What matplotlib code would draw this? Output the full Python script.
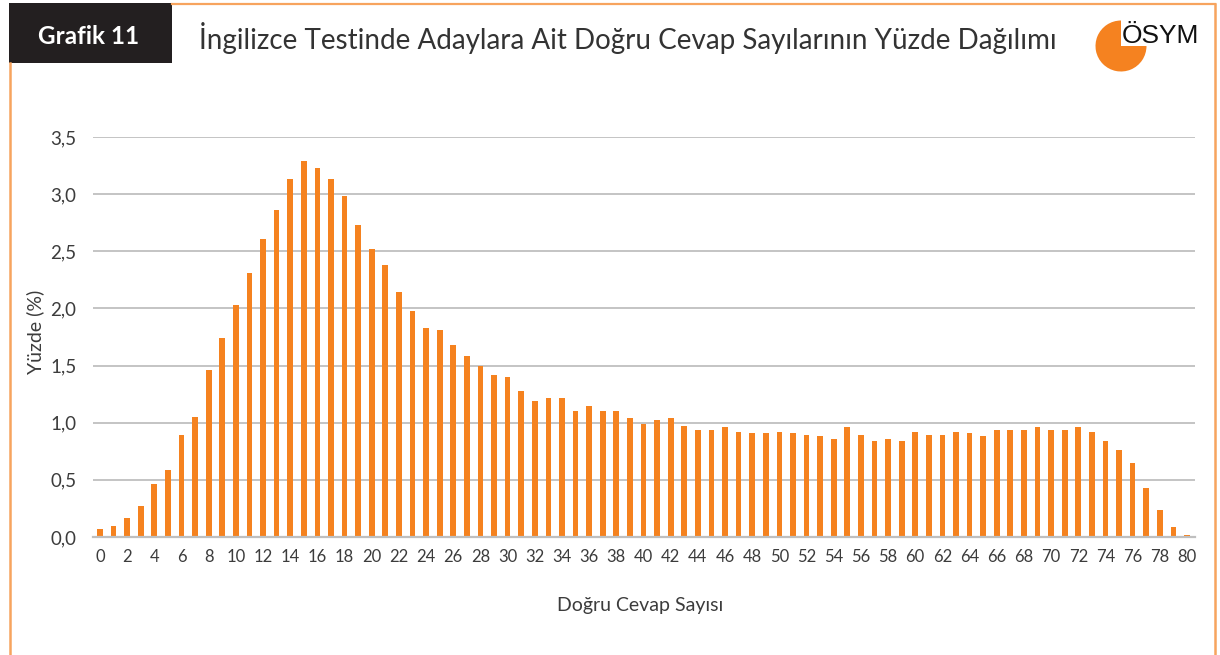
import matplotlib
matplotlib.use("Agg")
import matplotlib.pyplot as plt
from matplotlib.patches import Rectangle, Wedge
from matplotlib.lines import Line2D
from matplotlib.ticker import FuncFormatter

# ---- data ----
correct_counts = list(range(0, 81))
percentages = [
    0.07, 0.10, 0.17, 0.27, 0.46, 0.59, 0.89, 1.05, 1.46, 1.74,
    2.03, 2.31, 2.61, 2.86, 3.13, 3.29, 3.23, 3.13, 2.98, 2.73,
    2.52, 2.38, 2.14, 1.98, 1.83, 1.81, 1.68, 1.58, 1.50, 1.42,
    1.40, 1.28, 1.19, 1.22, 1.22, 1.10, 1.15, 1.10, 1.10, 1.04,
    0.99, 1.02, 1.04, 0.97, 0.94, 0.94, 0.96, 0.92, 0.91, 0.91,
    0.92, 0.91, 0.89, 0.88, 0.86, 0.96, 0.89, 0.84, 0.86, 0.84,
    0.92, 0.89, 0.89, 0.92, 0.91, 0.88, 0.94, 0.94, 0.94, 0.96,
    0.94, 0.94, 0.96, 0.92, 0.84, 0.76, 0.65, 0.43, 0.24, 0.09,
    0.02,
]
x_tick_values = list(range(0, 81, 2))
y_tick_values = [0.0, 0.5, 1.0, 1.5, 2.0, 2.5, 3.0, 3.5]

title_text = "İngilizce Testinde Adaylara Ait Doğru Cevap Sayılarının Yüzde Dağılımı"
badge_text = "Grafik 11"
x_label = "Doğru Cevap Sayısı"
y_label = "Yüzde (%)"
logo_text = "ÖSYM"

# ---- style ----
plt.rcParams['font.family'] = ['Lato', 'DejaVu Sans']
BAR = '#F5821F'
FRAME = '#F7A45E'
GRID = '#BFBFBF'
TXT = '#3C3C3C'

W, H = 1220, 655
fig = plt.figure(figsize=(W / 100, H / 100), dpi=100)
fig.patch.set_facecolor('white')

def fx(px):
    return px / W

def fy(py):
    return 1 - py / H

ax = fig.add_axes([fx(93), fy(537), fx(1195) - fx(93), fy(137) - fy(537)])
ax.bar(correct_counts, percentages, width=0.42, color=BAR, zorder=3)
ax.set_xlim(-0.515, 80.59)
ax.set_ylim(0, 3.5)
ax.set_yticks(y_tick_values)
ax.set_xticks(x_tick_values)
ax.yaxis.set_major_formatter(FuncFormatter(lambda v, p: f"{v:.1f}".replace('.', ',')))
ax.grid(axis='y', color=GRID, linewidth=1.3, zorder=0)
for s in ['top', 'right', 'left']:
    ax.spines[s].set_visible(False)
ax.spines['bottom'].set_color(GRID)
ax.spines['bottom'].set_linewidth(1.6)
ax.spines['bottom'].set_zorder(4)
ax.tick_params(axis='both', length=0, colors=TXT)
ax.tick_params(axis='y', labelsize=13.5, pad=12)
ax.tick_params(axis='x', labelsize=12, pad=9)

fig.text(fx(640), fy(606), x_label, ha='center', va='center', fontsize=14,
         color=TXT)
fig.text(fx(35), fy(332), y_label, ha='center', va='center', rotation=90,
         fontsize=14, color=TXT)

# ---- frame ----
fig.add_artist(Line2D([fx(172), fx(1215)], [fy(4), fy(4)], color=FRAME, lw=1.6,
                      transform=fig.transFigure))
fig.add_artist(Line2D([fx(10), fx(10)], [fy(63), fy(655)], color=FRAME, lw=1.8,
                      transform=fig.transFigure))
fig.add_artist(Line2D([fx(1215), fx(1215)], [fy(4), fy(655)], color=FRAME, lw=1.8,
                      transform=fig.transFigure))
fig.add_artist(Rectangle((fx(9), fy(63)), fx(172) - fx(9), fy(3) - fy(63),
                         facecolor='#231F20', edgecolor='none',
                         transform=fig.transFigure))
fig.text(fx(89), fy(37), badge_text, ha='center', va='center', fontsize=17.5,
         color='white', fontweight='bold')
fig.text(fx(199), fy(38), title_text, ha='left', va='center', fontsize=20,
         color='#333333')

# ---- logo ----
fig.add_artist(Wedge((11.21, 6.09), 0.255, 90, 360, facecolor='#F58220',
                     edgecolor='none', transform=fig.dpi_scale_trans))
fig.text(fx(1122), fy(43), logo_text, ha='left', va='baseline', fontsize=19,
         color='#111111', family=['Liberation Sans', 'DejaVu Sans'])

fig.savefig('out.png', dpi=100, facecolor='white')
